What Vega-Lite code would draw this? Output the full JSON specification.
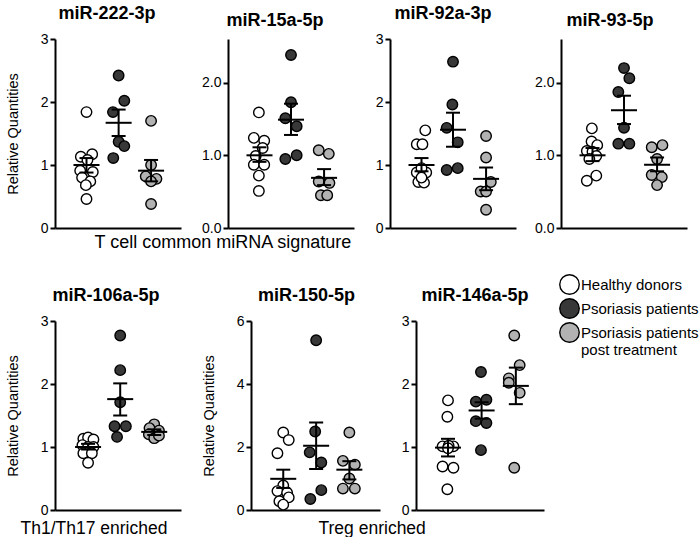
{
  "$schema": "https://vega.github.io/schema/vega-lite/v6.json",
  "background": "white",
  "datasets": {
    "pts": [
      {"p":"222","g":"Healthy donors","x":1.0,"y":1.84},{"p":"222","g":"Healthy donors","x":0.82,"y":1.13},{"p":"222","g":"Healthy donors","x":1.18,"y":1.17},{"p":"222","g":"Healthy donors","x":1.03,"y":1.08},{"p":"222","g":"Healthy donors","x":0.8,"y":0.91},{"p":"222","g":"Healthy donors","x":1.2,"y":0.89},{"p":"222","g":"Healthy donors","x":0.86,"y":0.8},{"p":"222","g":"Healthy donors","x":1.12,"y":0.74},{"p":"222","g":"Healthy donors","x":0.98,"y":0.68},{"p":"222","g":"Healthy donors","x":1.0,"y":0.46},
      {"p":"222","g":"Psoriasis patients","x":2.02,"y":2.42},{"p":"222","g":"Psoriasis patients","x":2.2,"y":2.02},{"p":"222","g":"Psoriasis patients","x":1.84,"y":1.84},{"p":"222","g":"Psoriasis patients","x":2.02,"y":1.37},{"p":"222","g":"Psoriasis patients","x":2.2,"y":1.3},{"p":"222","g":"Psoriasis patients","x":1.85,"y":1.11},
      {"p":"222","g":"Psoriasis patients post treatment","x":3.05,"y":1.7},{"p":"222","g":"Psoriasis patients post treatment","x":3.05,"y":1.0},{"p":"222","g":"Psoriasis patients post treatment","x":2.88,"y":0.82},{"p":"222","g":"Psoriasis patients post treatment","x":3.22,"y":0.78},{"p":"222","g":"Psoriasis patients post treatment","x":3.05,"y":0.74},{"p":"222","g":"Psoriasis patients post treatment","x":3.05,"y":0.38},

      {"p":"15a","g":"Healthy donors","x":0.98,"y":1.59},{"p":"15a","g":"Healthy donors","x":0.82,"y":1.24},{"p":"15a","g":"Healthy donors","x":1.15,"y":1.2},{"p":"15a","g":"Healthy donors","x":1.1,"y":1.1},{"p":"15a","g":"Healthy donors","x":0.88,"y":0.99},{"p":"15a","g":"Healthy donors","x":0.82,"y":0.87},{"p":"15a","g":"Healthy donors","x":1.15,"y":0.87},{"p":"15a","g":"Healthy donors","x":0.98,"y":0.72},{"p":"15a","g":"Healthy donors","x":0.98,"y":0.51},
      {"p":"15a","g":"Psoriasis patients","x":2.0,"y":2.38},{"p":"15a","g":"Psoriasis patients","x":2.0,"y":1.73},{"p":"15a","g":"Psoriasis patients","x":1.82,"y":1.51},{"p":"15a","g":"Psoriasis patients","x":2.18,"y":1.4},{"p":"15a","g":"Psoriasis patients","x":1.82,"y":0.95},{"p":"15a","g":"Psoriasis patients","x":2.18,"y":1.0},
      {"p":"15a","g":"Psoriasis patients post treatment","x":2.88,"y":1.07},{"p":"15a","g":"Psoriasis patients post treatment","x":3.2,"y":1.02},{"p":"15a","g":"Psoriasis patients post treatment","x":2.88,"y":0.64},{"p":"15a","g":"Psoriasis patients post treatment","x":3.22,"y":0.62},{"p":"15a","g":"Psoriasis patients post treatment","x":2.95,"y":0.45},{"p":"15a","g":"Psoriasis patients post treatment","x":3.15,"y":0.45},

      {"p":"92a","g":"Healthy donors","x":1.12,"y":1.55},{"p":"92a","g":"Healthy donors","x":0.85,"y":1.33},{"p":"92a","g":"Healthy donors","x":1.03,"y":1.33},{"p":"92a","g":"Healthy donors","x":0.85,"y":0.88},{"p":"92a","g":"Healthy donors","x":1.15,"y":0.88},{"p":"92a","g":"Healthy donors","x":1.0,"y":0.95},{"p":"92a","g":"Healthy donors","x":0.9,"y":0.73},{"p":"92a","g":"Healthy donors","x":1.08,"y":0.72},{"p":"92a","g":"Healthy donors","x":1.0,"y":0.8},
      {"p":"92a","g":"Psoriasis patients","x":2.0,"y":2.64},{"p":"92a","g":"Psoriasis patients","x":1.98,"y":1.96},{"p":"92a","g":"Psoriasis patients","x":1.8,"y":1.59},{"p":"92a","g":"Psoriasis patients","x":2.15,"y":1.36},{"p":"92a","g":"Psoriasis patients","x":1.8,"y":0.92},{"p":"92a","g":"Psoriasis patients","x":2.15,"y":0.95},
      {"p":"92a","g":"Psoriasis patients post treatment","x":3.05,"y":1.46},{"p":"92a","g":"Psoriasis patients post treatment","x":3.05,"y":1.12},{"p":"92a","g":"Psoriasis patients post treatment","x":3.2,"y":0.73},{"p":"92a","g":"Psoriasis patients post treatment","x":2.88,"y":0.58},{"p":"92a","g":"Psoriasis patients post treatment","x":3.05,"y":0.58},{"p":"92a","g":"Psoriasis patients post treatment","x":3.05,"y":0.29},

      {"p":"93","g":"Healthy donors","x":0.98,"y":1.37},{"p":"93","g":"Healthy donors","x":0.97,"y":1.19},{"p":"93","g":"Healthy donors","x":1.15,"y":1.14},{"p":"93","g":"Healthy donors","x":0.82,"y":1.06},{"p":"93","g":"Healthy donors","x":1.0,"y":1.05},{"p":"93","g":"Healthy donors","x":1.12,"y":0.99},{"p":"93","g":"Healthy donors","x":0.9,"y":0.95},{"p":"93","g":"Healthy donors","x":1.12,"y":0.72},{"p":"93","g":"Healthy donors","x":0.82,"y":0.65},
      {"p":"93","g":"Psoriasis patients","x":2.0,"y":2.2},{"p":"93","g":"Psoriasis patients","x":2.17,"y":2.06},{"p":"93","g":"Psoriasis patients","x":1.82,"y":1.87},{"p":"93","g":"Psoriasis patients","x":2.0,"y":1.38},{"p":"93","g":"Psoriasis patients","x":1.82,"y":1.16},{"p":"93","g":"Psoriasis patients","x":2.17,"y":1.16},
      {"p":"93","g":"Psoriasis patients post treatment","x":2.88,"y":1.11},{"p":"93","g":"Psoriasis patients post treatment","x":3.22,"y":1.14},{"p":"93","g":"Psoriasis patients post treatment","x":3.05,"y":0.95},{"p":"93","g":"Psoriasis patients post treatment","x":2.88,"y":0.73},{"p":"93","g":"Psoriasis patients post treatment","x":3.2,"y":0.7},{"p":"93","g":"Psoriasis patients post treatment","x":3.05,"y":0.59},

      {"p":"106a","g":"Healthy donors","x":0.9,"y":1.13},{"p":"106a","g":"Healthy donors","x":1.05,"y":1.15},{"p":"106a","g":"Healthy donors","x":1.22,"y":1.12},{"p":"106a","g":"Healthy donors","x":0.87,"y":1.03},{"p":"106a","g":"Healthy donors","x":1.05,"y":1.0},{"p":"106a","g":"Healthy donors","x":1.22,"y":1.0},{"p":"106a","g":"Healthy donors","x":0.9,"y":0.9},{"p":"106a","g":"Healthy donors","x":1.17,"y":0.9},{"p":"106a","g":"Healthy donors","x":1.05,"y":0.75},
      {"p":"106a","g":"Psoriasis patients","x":2.07,"y":2.77},{"p":"106a","g":"Psoriasis patients","x":2.07,"y":2.22},{"p":"106a","g":"Psoriasis patients","x":2.07,"y":1.71},{"p":"106a","g":"Psoriasis patients","x":1.89,"y":1.33},{"p":"106a","g":"Psoriasis patients","x":2.25,"y":1.33},{"p":"106a","g":"Psoriasis patients","x":1.97,"y":1.16},
      {"p":"106a","g":"Psoriasis patients post treatment","x":3.15,"y":1.36},{"p":"106a","g":"Psoriasis patients post treatment","x":3.0,"y":1.3},{"p":"106a","g":"Psoriasis patients post treatment","x":3.3,"y":1.26},{"p":"106a","g":"Psoriasis patients post treatment","x":2.98,"y":1.2},{"p":"106a","g":"Psoriasis patients post treatment","x":3.15,"y":1.14},{"p":"106a","g":"Psoriasis patients post treatment","x":3.3,"y":1.18},

      {"p":"150","g":"Healthy donors","x":1.0,"y":2.46},{"p":"150","g":"Healthy donors","x":1.17,"y":2.22},{"p":"150","g":"Healthy donors","x":0.82,"y":1.8},{"p":"150","g":"Healthy donors","x":1.0,"y":0.78},{"p":"150","g":"Healthy donors","x":0.82,"y":0.6},{"p":"150","g":"Healthy donors","x":1.12,"y":0.55},{"p":"150","g":"Healthy donors","x":1.17,"y":0.4},{"p":"150","g":"Healthy donors","x":0.88,"y":0.28},{"p":"150","g":"Healthy donors","x":1.0,"y":0.17},
      {"p":"150","g":"Psoriasis patients","x":2.02,"y":5.39},{"p":"150","g":"Psoriasis patients","x":1.99,"y":2.49},{"p":"150","g":"Psoriasis patients","x":1.82,"y":1.83},{"p":"150","g":"Psoriasis patients","x":2.18,"y":1.51},{"p":"150","g":"Psoriasis patients","x":2.18,"y":0.63},{"p":"150","g":"Psoriasis patients","x":1.84,"y":0.35},
      {"p":"150","g":"Psoriasis patients post treatment","x":3.05,"y":2.46},{"p":"150","g":"Psoriasis patients post treatment","x":2.85,"y":1.56},{"p":"150","g":"Psoriasis patients post treatment","x":3.22,"y":1.44},{"p":"150","g":"Psoriasis patients post treatment","x":3.05,"y":1.0},{"p":"150","g":"Psoriasis patients post treatment","x":2.85,"y":0.68},{"p":"150","g":"Psoriasis patients post treatment","x":3.22,"y":0.68},

      {"p":"146a","g":"Healthy donors","x":1.0,"y":1.74},{"p":"146a","g":"Healthy donors","x":0.98,"y":1.48},{"p":"146a","g":"Healthy donors","x":0.83,"y":1.01},{"p":"146a","g":"Healthy donors","x":1.17,"y":1.01},{"p":"146a","g":"Healthy donors","x":1.02,"y":1.02},{"p":"146a","g":"Healthy donors","x":0.83,"y":0.69},{"p":"146a","g":"Healthy donors","x":1.17,"y":0.67},{"p":"146a","g":"Healthy donors","x":0.98,"y":0.33},{"p":"146a","g":"Healthy donors","x":1.0,"y":0.98},
      {"p":"146a","g":"Psoriasis patients","x":2.03,"y":2.19},{"p":"146a","g":"Psoriasis patients","x":1.87,"y":1.72},{"p":"146a","g":"Psoriasis patients","x":2.2,"y":1.75},{"p":"146a","g":"Psoriasis patients","x":1.87,"y":1.41},{"p":"146a","g":"Psoriasis patients","x":2.2,"y":1.38},{"p":"146a","g":"Psoriasis patients","x":2.03,"y":0.95},
      {"p":"146a","g":"Psoriasis patients post treatment","x":3.07,"y":2.77},{"p":"146a","g":"Psoriasis patients post treatment","x":3.24,"y":2.3},{"p":"146a","g":"Psoriasis patients post treatment","x":2.9,"y":2.09},{"p":"146a","g":"Psoriasis patients post treatment","x":2.9,"y":2.02},{"p":"146a","g":"Psoriasis patients post treatment","x":3.24,"y":1.86},{"p":"146a","g":"Psoriasis patients post treatment","x":3.07,"y":0.67}
    ],
    "sum": [
      {"p":"222","x":1.0,"mean":1.0,"lo":0.88,"hi":1.11},{"p":"222","x":2.02,"mean":1.67,"lo":1.46,"hi":1.88},{"p":"222","x":3.05,"mean":0.91,"lo":0.74,"hi":1.08},
      {"p":"15a","x":1.0,"mean":1.0,"lo":0.91,"hi":1.11},{"p":"15a","x":2.0,"mean":1.49,"lo":1.28,"hi":1.71},{"p":"15a","x":3.05,"mean":0.69,"lo":0.59,"hi":0.81},
      {"p":"92a","x":1.0,"mean":1.0,"lo":0.9,"hi":1.11},{"p":"92a","x":2.0,"mean":1.56,"lo":1.29,"hi":1.83},{"p":"92a","x":3.05,"mean":0.78,"lo":0.6,"hi":0.96},
      {"p":"93","x":1.0,"mean":1.0,"lo":0.92,"hi":1.1},{"p":"93","x":2.0,"mean":1.62,"lo":1.43,"hi":1.82},{"p":"93","x":3.05,"mean":0.87,"lo":0.78,"hi":0.97},
      {"p":"106a","x":1.05,"mean":1.0,"lo":0.96,"hi":1.05},{"p":"106a","x":2.07,"mean":1.76,"lo":1.5,"hi":2.01},{"p":"106a","x":3.15,"mean":1.24,"lo":1.19,"hi":1.28},
      {"p":"150","x":1.0,"mean":0.99,"lo":0.7,"hi":1.28},{"p":"150","x":2.02,"mean":2.04,"lo":1.3,"hi":2.78},{"p":"150","x":3.05,"mean":1.28,"lo":0.97,"hi":1.55},
      {"p":"146a","x":1.0,"mean":0.99,"lo":0.85,"hi":1.13},{"p":"146a","x":2.05,"mean":1.58,"lo":1.45,"hi":1.71},{"p":"146a","x":3.12,"mean":1.97,"lo":1.68,"hi":2.26}
    ]
  },
  "spacing": 36,
  "vconcat": [
    {
      "bounds": "flush",
      "spacing": 12,
      "hconcat": [
        {
          "width": 126, "height": 189,
          "title": {"text": "miR-222-3p", "frame": "group", "dx": -11},
          "layer": [
            {"data": {"name": "pts"}, "transform": [{"filter": "datum.p === '222'"}],
             "mark": {"type": "point", "filled": true, "size": 110, "stroke": "black", "strokeWidth": 1.4, "opacity": 1},
             "encoding": {
               "x": {"field": "x", "type": "quantitative", "title": "T cell common miRNA signature", "scale": {"domain": [0.45, 3.55]}, "axis": {"titleX": 39, "titleY": 19, "titleAlign": "left", "titleBaseline": "alphabetic"}},
               "y": {"field": "y", "type": "quantitative", "title": "Relative Quantities", "scale": {"domain": [0, 3]}, "axis": {"values": [0, 1, 2, 3], "format": "d"}},
               "fill": {"field": "g", "type": "nominal", "scale": {"domain": ["Healthy donors", "Psoriasis patients", "Psoriasis patients post treatment"], "range": ["white", "#383838", "#b2b2b2"]},
                 "legend": {"orient": "none", "legendX": 504, "legendY": 235, "title": null, "symbolType": "circle", "symbolSize": 380, "symbolStrokeColor": "black", "symbolStrokeWidth": 1.4, "labelFontSize": 15, "labelFont": "Liberation Sans", "labelColor": "black", "labelOffset": 1, "rowPadding": -8, "labelLimit": 0,
                   "labelExpr": "datum.value === 'Psoriasis patients post treatment' ? ['Psoriasis patients', '   post treatment'] : datum.label",
                   "encode": {"labels": {"update": {"lineHeight": {"value": 17}, "dy": {"signal": "datum.value === 'Psoriasis patients post treatment' ? 8.5 : 0"}}}}}}
             }},
            {"data": {"name": "sum"}, "transform": [{"filter": "datum.p === '222'"}], "mark": {"type": "tick", "orient": "horizontal", "size": 26, "thickness": 2, "color": "black", "opacity": 1},
             "encoding": {"x": {"field": "x", "type": "quantitative", "title": "T cell common miRNA signature"}, "y": {"field": "mean", "type": "quantitative", "title": "Relative Quantities"}}},
            {"data": {"name": "sum"}, "transform": [{"filter": "datum.p === '222'"}], "mark": {"type": "rule", "strokeWidth": 2, "color": "black"},
             "encoding": {"x": {"field": "x", "type": "quantitative", "title": "T cell common miRNA signature"}, "y": {"field": "lo", "type": "quantitative", "title": "Relative Quantities"}, "y2": {"field": "hi"}}},
            {"data": {"name": "sum"}, "transform": [{"filter": "datum.p === '222'"}], "mark": {"type": "tick", "orient": "horizontal", "size": 14, "thickness": 2, "color": "black", "opacity": 1},
             "encoding": {"x": {"field": "x", "type": "quantitative", "title": "T cell common miRNA signature"}, "y": {"field": "lo", "type": "quantitative", "title": "Relative Quantities"}}},
            {"data": {"name": "sum"}, "transform": [{"filter": "datum.p === '222'"}], "mark": {"type": "tick", "orient": "horizontal", "size": 14, "thickness": 2, "color": "black", "opacity": 1},
             "encoding": {"x": {"field": "x", "type": "quantitative", "title": "T cell common miRNA signature"}, "y": {"field": "hi", "type": "quantitative", "title": "Relative Quantities"}}}
          ]
        },
        {"width": 23, "height": 189, "data": {"values": []}, "mark": "point", "encoding": {}},
        {
          "width": 126, "height": 189,
          "title": {"text": "miR-15a-5p", "frame": "group", "dx": -16},
          "layer": [
            {"data": {"name": "pts"}, "transform": [{"filter": "datum.p === '15a'"}],
             "mark": {"type": "point", "filled": true, "size": 110, "stroke": "black", "strokeWidth": 1.4, "opacity": 1},
             "encoding": {
               "x": {"field": "x", "type": "quantitative", "title": null, "scale": {"domain": [0.45, 3.55]}},
               "y": {"field": "y", "type": "quantitative", "title": null, "scale": {"domain": [0, 2.5]}, "axis": {"values": [0, 0.5, 1, 1.5, 2, 2.5], "format": ".1f"}},
               "fill": {"field": "g", "type": "nominal"}
             }},
            {"data": {"name": "sum"}, "transform": [{"filter": "datum.p === '15a'"}], "mark": {"type": "tick", "orient": "horizontal", "size": 26, "thickness": 2, "color": "black", "opacity": 1},
             "encoding": {"x": {"field": "x", "type": "quantitative", "title": null}, "y": {"field": "mean", "type": "quantitative", "title": null}}},
            {"data": {"name": "sum"}, "transform": [{"filter": "datum.p === '15a'"}], "mark": {"type": "rule", "strokeWidth": 2, "color": "black"},
             "encoding": {"x": {"field": "x", "type": "quantitative", "title": null}, "y": {"field": "lo", "type": "quantitative", "title": null}, "y2": {"field": "hi"}}},
            {"data": {"name": "sum"}, "transform": [{"filter": "datum.p === '15a'"}], "mark": {"type": "tick", "orient": "horizontal", "size": 14, "thickness": 2, "color": "black", "opacity": 1},
             "encoding": {"x": {"field": "x", "type": "quantitative", "title": null}, "y": {"field": "lo", "type": "quantitative", "title": null}}},
            {"data": {"name": "sum"}, "transform": [{"filter": "datum.p === '15a'"}], "mark": {"type": "tick", "orient": "horizontal", "size": 14, "thickness": 2, "color": "black", "opacity": 1},
             "encoding": {"x": {"field": "x", "type": "quantitative", "title": null}, "y": {"field": "hi", "type": "quantitative", "title": null}}}
          ]
        },
        {"width": 12, "height": 189, "data": {"values": []}, "mark": "point", "encoding": {}},
        {
          "width": 126, "height": 189,
          "title": {"text": "miR-92a-3p", "frame": "group", "dx": -10},
          "layer": [
            {"data": {"name": "pts"}, "transform": [{"filter": "datum.p === '92a'"}],
             "mark": {"type": "point", "filled": true, "size": 110, "stroke": "black", "strokeWidth": 1.4, "opacity": 1},
             "encoding": {
               "x": {"field": "x", "type": "quantitative", "title": null, "scale": {"domain": [0.45, 3.55]}},
               "y": {"field": "y", "type": "quantitative", "title": null, "scale": {"domain": [0, 3]}, "axis": {"values": [0, 1, 2, 3], "format": "d"}},
               "fill": {"field": "g", "type": "nominal"}
             }},
            {"data": {"name": "sum"}, "transform": [{"filter": "datum.p === '92a'"}], "mark": {"type": "tick", "orient": "horizontal", "size": 26, "thickness": 2, "color": "black", "opacity": 1},
             "encoding": {"x": {"field": "x", "type": "quantitative", "title": null}, "y": {"field": "mean", "type": "quantitative", "title": null}}},
            {"data": {"name": "sum"}, "transform": [{"filter": "datum.p === '92a'"}], "mark": {"type": "rule", "strokeWidth": 2, "color": "black"},
             "encoding": {"x": {"field": "x", "type": "quantitative", "title": null}, "y": {"field": "lo", "type": "quantitative", "title": null}, "y2": {"field": "hi"}}},
            {"data": {"name": "sum"}, "transform": [{"filter": "datum.p === '92a'"}], "mark": {"type": "tick", "orient": "horizontal", "size": 14, "thickness": 2, "color": "black", "opacity": 1},
             "encoding": {"x": {"field": "x", "type": "quantitative", "title": null}, "y": {"field": "lo", "type": "quantitative", "title": null}}},
            {"data": {"name": "sum"}, "transform": [{"filter": "datum.p === '92a'"}], "mark": {"type": "tick", "orient": "horizontal", "size": 14, "thickness": 2, "color": "black", "opacity": 1},
             "encoding": {"x": {"field": "x", "type": "quantitative", "title": null}, "y": {"field": "hi", "type": "quantitative", "title": null}}}
          ]
        },
        {"width": 21, "height": 189, "data": {"values": []}, "mark": "point", "encoding": {}},
        {
          "width": 126, "height": 189,
          "title": {"text": "miR-93-5p", "frame": "group", "dx": -14},
          "layer": [
            {"data": {"name": "pts"}, "transform": [{"filter": "datum.p === '93'"}],
             "mark": {"type": "point", "filled": true, "size": 110, "stroke": "black", "strokeWidth": 1.4, "opacity": 1},
             "encoding": {
               "x": {"field": "x", "type": "quantitative", "title": null, "scale": {"domain": [0.45, 3.55]}},
               "y": {"field": "y", "type": "quantitative", "title": null, "scale": {"domain": [0, 2.5]}, "axis": {"values": [0, 0.5, 1, 1.5, 2, 2.5], "format": ".1f"}},
               "fill": {"field": "g", "type": "nominal"}
             }},
            {"data": {"name": "sum"}, "transform": [{"filter": "datum.p === '93'"}], "mark": {"type": "tick", "orient": "horizontal", "size": 26, "thickness": 2, "color": "black", "opacity": 1},
             "encoding": {"x": {"field": "x", "type": "quantitative", "title": null}, "y": {"field": "mean", "type": "quantitative", "title": null}}},
            {"data": {"name": "sum"}, "transform": [{"filter": "datum.p === '93'"}], "mark": {"type": "rule", "strokeWidth": 2, "color": "black"},
             "encoding": {"x": {"field": "x", "type": "quantitative", "title": null}, "y": {"field": "lo", "type": "quantitative", "title": null}, "y2": {"field": "hi"}}},
            {"data": {"name": "sum"}, "transform": [{"filter": "datum.p === '93'"}], "mark": {"type": "tick", "orient": "horizontal", "size": 14, "thickness": 2, "color": "black", "opacity": 1},
             "encoding": {"x": {"field": "x", "type": "quantitative", "title": null}, "y": {"field": "lo", "type": "quantitative", "title": null}}},
            {"data": {"name": "sum"}, "transform": [{"filter": "datum.p === '93'"}], "mark": {"type": "tick", "orient": "horizontal", "size": 14, "thickness": 2, "color": "black", "opacity": 1},
             "encoding": {"x": {"field": "x", "type": "quantitative", "title": null}, "y": {"field": "hi", "type": "quantitative", "title": null}}}
          ]
        }
      ]
    },
    {
      "bounds": "flush",
      "spacing": 12,
      "hconcat": [
        {
          "width": 126, "height": 189,
          "title": {"text": "miR-106a-5p", "frame": "group", "dx": -12},
          "layer": [
            {"data": {"name": "pts"}, "transform": [{"filter": "datum.p === '106a'"}],
             "mark": {"type": "point", "filled": true, "size": 110, "stroke": "black", "strokeWidth": 1.4, "opacity": 1},
             "encoding": {
               "x": {"field": "x", "type": "quantitative", "title": "Th1/Th17 enriched", "scale": {"domain": [0.45, 3.55]}, "axis": {"titleX": -35, "titleY": 23, "titleAlign": "left", "titleBaseline": "alphabetic", "titleFontSize": 17.5}},
               "y": {"field": "y", "type": "quantitative", "title": "Relative Quantities", "scale": {"domain": [0, 3]}, "axis": {"values": [0, 1, 2, 3], "format": "d"}},
               "fill": {"field": "g", "type": "nominal"}
             }},
            {"data": {"name": "sum"}, "transform": [{"filter": "datum.p === '106a'"}], "mark": {"type": "tick", "orient": "horizontal", "size": 26, "thickness": 2, "color": "black", "opacity": 1},
             "encoding": {"x": {"field": "x", "type": "quantitative", "title": "Th1/Th17 enriched"}, "y": {"field": "mean", "type": "quantitative", "title": "Relative Quantities"}}},
            {"data": {"name": "sum"}, "transform": [{"filter": "datum.p === '106a'"}], "mark": {"type": "rule", "strokeWidth": 2, "color": "black"},
             "encoding": {"x": {"field": "x", "type": "quantitative", "title": "Th1/Th17 enriched"}, "y": {"field": "lo", "type": "quantitative", "title": "Relative Quantities"}, "y2": {"field": "hi"}}},
            {"data": {"name": "sum"}, "transform": [{"filter": "datum.p === '106a'"}], "mark": {"type": "tick", "orient": "horizontal", "size": 14, "thickness": 2, "color": "black", "opacity": 1},
             "encoding": {"x": {"field": "x", "type": "quantitative", "title": "Th1/Th17 enriched"}, "y": {"field": "lo", "type": "quantitative", "title": "Relative Quantities"}}},
            {"data": {"name": "sum"}, "transform": [{"filter": "datum.p === '106a'"}], "mark": {"type": "tick", "orient": "horizontal", "size": 14, "thickness": 2, "color": "black", "opacity": 1},
             "encoding": {"x": {"field": "x", "type": "quantitative", "title": "Th1/Th17 enriched"}, "y": {"field": "hi", "type": "quantitative", "title": "Relative Quantities"}}}
          ]
        },
        {"width": 46, "height": 189, "data": {"values": []}, "mark": "point", "encoding": {}},
        {
          "width": 129, "height": 189,
          "title": {"text": "miR-150-5p", "frame": "group", "dx": -9},
          "layer": [
            {"data": {"name": "pts"}, "transform": [{"filter": "datum.p === '150'"}],
             "mark": {"type": "point", "filled": true, "size": 110, "stroke": "black", "strokeWidth": 1.4, "opacity": 1},
             "encoding": {
               "x": {"field": "x", "type": "quantitative", "title": "Treg enriched", "scale": {"domain": [0.45, 3.55]}, "axis": {"titleX": 67, "titleY": 23, "titleAlign": "left", "titleBaseline": "alphabetic", "titleFontSize": 17.5}},
               "y": {"field": "y", "type": "quantitative", "title": "Relative Quantities", "scale": {"domain": [0, 6]}, "axis": {"values": [0, 2, 4, 6], "format": "d"}},
               "fill": {"field": "g", "type": "nominal"}
             }},
            {"data": {"name": "sum"}, "transform": [{"filter": "datum.p === '150'"}], "mark": {"type": "tick", "orient": "horizontal", "size": 26, "thickness": 2, "color": "black", "opacity": 1},
             "encoding": {"x": {"field": "x", "type": "quantitative", "title": "Treg enriched"}, "y": {"field": "mean", "type": "quantitative", "title": "Relative Quantities"}}},
            {"data": {"name": "sum"}, "transform": [{"filter": "datum.p === '150'"}], "mark": {"type": "rule", "strokeWidth": 2, "color": "black"},
             "encoding": {"x": {"field": "x", "type": "quantitative", "title": "Treg enriched"}, "y": {"field": "lo", "type": "quantitative", "title": "Relative Quantities"}, "y2": {"field": "hi"}}},
            {"data": {"name": "sum"}, "transform": [{"filter": "datum.p === '150'"}], "mark": {"type": "tick", "orient": "horizontal", "size": 14, "thickness": 2, "color": "black", "opacity": 1},
             "encoding": {"x": {"field": "x", "type": "quantitative", "title": "Treg enriched"}, "y": {"field": "lo", "type": "quantitative", "title": "Relative Quantities"}}},
            {"data": {"name": "sum"}, "transform": [{"filter": "datum.p === '150'"}], "mark": {"type": "tick", "orient": "horizontal", "size": 14, "thickness": 2, "color": "black", "opacity": 1},
             "encoding": {"x": {"field": "x", "type": "quantitative", "title": "Treg enriched"}, "y": {"field": "hi", "type": "quantitative", "title": "Relative Quantities"}}}
          ]
        },
        {"width": 12, "height": 189, "data": {"values": []}, "mark": "point", "encoding": {}},
        {
          "width": 128, "height": 189,
          "title": {"text": "miR-146a-5p", "frame": "group", "dx": -5},
          "layer": [
            {"data": {"name": "pts"}, "transform": [{"filter": "datum.p === '146a'"}],
             "mark": {"type": "point", "filled": true, "size": 110, "stroke": "black", "strokeWidth": 1.4, "opacity": 1},
             "encoding": {
               "x": {"field": "x", "type": "quantitative", "title": null, "scale": {"domain": [0.45, 3.55]}},
               "y": {"field": "y", "type": "quantitative", "title": null, "scale": {"domain": [0, 3]}, "axis": {"values": [0, 1, 2, 3], "format": "d"}},
               "fill": {"field": "g", "type": "nominal"}
             }},
            {"data": {"name": "sum"}, "transform": [{"filter": "datum.p === '146a'"}], "mark": {"type": "tick", "orient": "horizontal", "size": 26, "thickness": 2, "color": "black", "opacity": 1},
             "encoding": {"x": {"field": "x", "type": "quantitative", "title": null}, "y": {"field": "mean", "type": "quantitative", "title": null}}},
            {"data": {"name": "sum"}, "transform": [{"filter": "datum.p === '146a'"}], "mark": {"type": "rule", "strokeWidth": 2, "color": "black"},
             "encoding": {"x": {"field": "x", "type": "quantitative", "title": null}, "y": {"field": "lo", "type": "quantitative", "title": null}, "y2": {"field": "hi"}}},
            {"data": {"name": "sum"}, "transform": [{"filter": "datum.p === '146a'"}], "mark": {"type": "tick", "orient": "horizontal", "size": 14, "thickness": 2, "color": "black", "opacity": 1},
             "encoding": {"x": {"field": "x", "type": "quantitative", "title": null}, "y": {"field": "lo", "type": "quantitative", "title": null}}},
            {"data": {"name": "sum"}, "transform": [{"filter": "datum.p === '146a'"}], "mark": {"type": "tick", "orient": "horizontal", "size": 14, "thickness": 2, "color": "black", "opacity": 1},
             "encoding": {"x": {"field": "x", "type": "quantitative", "title": null}, "y": {"field": "hi", "type": "quantitative", "title": null}}}
          ]
        }
      ]
    }
  ],
  "config": {
    "font": "Liberation Sans",
    "view": {"stroke": null},
    "title": {"font": "Liberation Sans", "fontSize": 18, "fontWeight": "bold", "color": "black", "baseline": "alphabetic", "offset": 9, "anchor": "middle"},
    "axis": {"domainColor": "black", "domainWidth": 2, "tickColor": "black", "tickWidth": 2, "tickSize": 5, "labelFont": "Liberation Sans", "labelFontSize": 14, "labelColor": "black", "labelPadding": 2, "titleFont": "Liberation Sans", "titleFontSize": 14.5, "titleFontWeight": "normal", "titleColor": "black", "titlePadding": 20, "grid": false},
    "axisX": {"ticks": false, "labels": false, "titleFontSize": 18, "titlePadding": 0}
  }
}
